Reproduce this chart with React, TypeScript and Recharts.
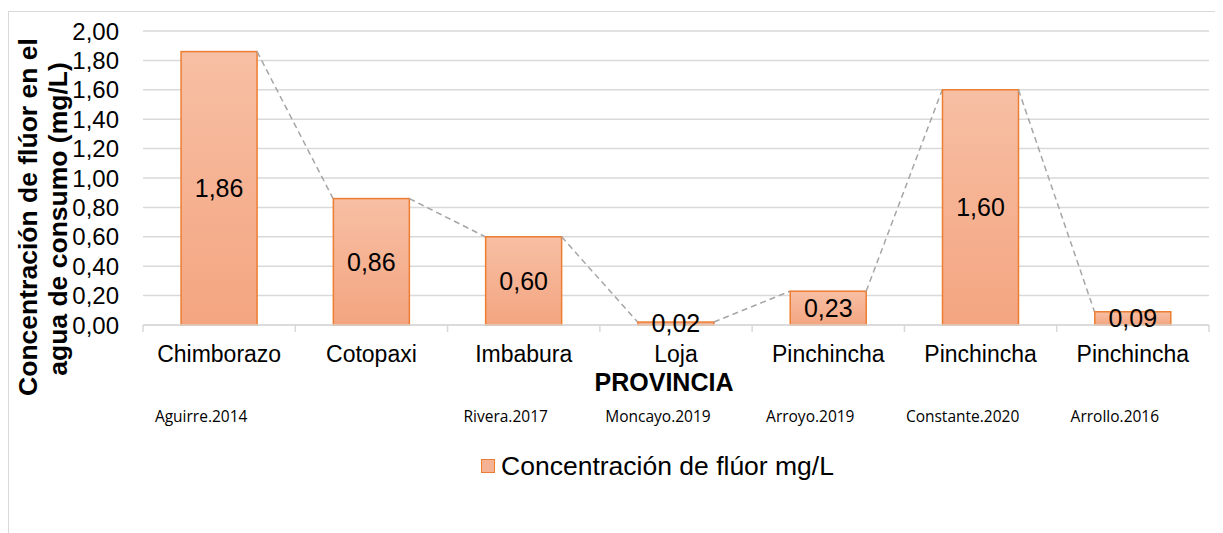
import React from 'react';
import {
  BarChart,
  Bar,
  XAxis,
  YAxis,
  CartesianGrid,
  Legend,
  LabelList,
} from 'recharts';

const provinces = ['Chimborazo', 'Cotopaxi', 'Imbabura', 'Loja', 'Pinchincha', 'Pinchincha', 'Pinchincha'];
const authors = ['Aguirre.2014', '', 'Rivera.2017', 'Moncayo.2019', 'Arroyo.2019', 'Constante.2020', 'Arrollo.2016'];
const fluor = [1.86, 0.86, 0.6, 0.02, 0.23, 1.6, 0.09];
const yTicks = [0, 0.2, 0.4, 0.6, 0.8, 1.0, 1.2, 1.4, 1.6, 1.8, 2.0];

const data = provinces.map((p, i) => ({ id: i, provincia: p, autor: authors[i], value: fluor[i] }));

const fmt = (v: number) => v.toFixed(2).replace('.', ',');
const FONT = '"Liberation Sans", Arial, sans-serif';

// bar plus the dashed series line to the next bar
const BarShape = (props: any) => {
  const { x, y, width, height, index } = props;
  const v = fluor[index];
  const base = y + height;
  const next = fluor[index + 1];
  let line = null;
  if (next !== undefined && v > 0) {
    const pxPerUnit = height / v;
    line = (
      <line
        x1={x + width}
        y1={y}
        x2={x + 2 * width}
        y2={base - next * pxPerUnit}
        stroke="#a6a6a6"
        strokeWidth={1.5}
        strokeDasharray="6 4"
      />
    );
  }
  return (
    <g>
      <rect x={x} y={y} width={width} height={height} fill="url(#barGrad)" stroke="#ED7D31" strokeWidth={1.5} />
      {line}
    </g>
  );
};

const CategoryTick = (props: any) => {
  const { x, y, payload, index } = props;
  const half = payload && payload.offset ? payload.offset : 76;
  return (
    <g>
      <line x1={x - half} y1={y} x2={x - half} y2={y + 7} stroke="#d9d9d9" strokeWidth={1.5} />
      {index === provinces.length - 1 && (
        <line x1={x + half} y1={y} x2={x + half} y2={y + 7} stroke="#d9d9d9" strokeWidth={1.5} />
      )}
      <text x={x} y={y + 37} textAnchor="middle" fontSize={23} fontFamily={FONT} fill="#000">
        {provinces[index]}
      </text>
      <text x={x - 18} y={y + 97} textAnchor="middle" fontSize={15.5} fontFamily='"Open Sans", sans-serif' fill="#000">
        {authors[index]}
      </text>
    </g>
  );
};

const YLabel = () => (
  <g fontFamily={FONT} fontWeight="bold" fontSize={26.5} fill="#000">
    <text x={28} y={205} textAnchor="middle" transform="rotate(-90, 28, 205)">
      Concentración de flúor en el
    </text>
    <text x={58} y={207} textAnchor="middle" transform="rotate(-90, 58, 207)">
      agua de consumo (mg/L)
    </text>
  </g>
);

const LegendBox = () => (
  <div
    style={{
      display: 'flex',
      alignItems: 'center',
      justifyContent: 'center',
      fontFamily: FONT,
      fontSize: 26.5,
      color: '#000',
      height: 30,
      paddingLeft: 97,
    }}
  >
    <span
      style={{
        display: 'inline-block',
        width: 12,
        height: 12,
        background: '#F5B294',
        border: '1.5px solid #ED7D31',
        marginRight: 6,
      }}
    />
    Concentración de flúor mg/L
  </div>
);

const App: React.FC = () => {
  return (
    <div style={{ paddingTop: 3 }}>
      <div
        style={{
          width: 1215,
          height: 522,
          borderTop: '1.5px solid #d9d9d9',
          borderLeft: '1.5px solid #d9d9d9',
          boxSizing: 'border-box',
          position: 'relative',
        }}
      >
        <BarChart
          width={1213}
          height={520}
          data={data}
          barCategoryGap="25%"
          margin={{ top: 19, right: 13, bottom: 75, left: 0 }}
        >
          <defs>
            <linearGradient id="barGrad" x1="0" y1="0" x2="0" y2="1">
              <stop offset="0%" stopColor="#F7BFA4" />
              <stop offset="100%" stopColor="#F4A580" />
            </linearGradient>
          </defs>
          <CartesianGrid vertical={false} stroke="#d9d9d9" strokeWidth={1.5} />
          <XAxis
            dataKey="id"
            type="category"
            height={102}
            tickSize={0}
            tickMargin={0}
            tickLine={false}
            axisLine={{ stroke: '#d9d9d9', strokeWidth: 1.5 }}
            tick={<CategoryTick />}
            interval={0}
            label={{
              value: 'PROVINCIA',
              position: 'insideTop',
              offset: 48,
              dx: -12,
              fontFamily: FONT,
              fontWeight: 'bold',
              fontSize: 25,
              fill: '#000',
            }}
          />
          <YAxis
            width={134}
            domain={[0, 2]}
            ticks={yTicks}
            interval={0}
            tickFormatter={fmt}
            tickLine={false}
            axisLine={false}
            tickMargin={18}
            tick={{ fontSize: 24, fontFamily: FONT, fill: '#000' }}
            label={<YLabel />}
          />
          <Legend content={<LegendBox />} wrapperStyle={{ top: 439, bottom: 'auto' }} />
          <Bar dataKey="value" shape={<BarShape />} isAnimationActive={false} legendType="rect">
            <LabelList
              dataKey="value"
              position="center"
              formatter={(v: any) => fmt(Number(v))}
              style={{ fontSize: 25, fontFamily: FONT, fill: '#000' }}
            />
          </Bar>
        </BarChart>
      </div>
    </div>
  );
};

export default App;
